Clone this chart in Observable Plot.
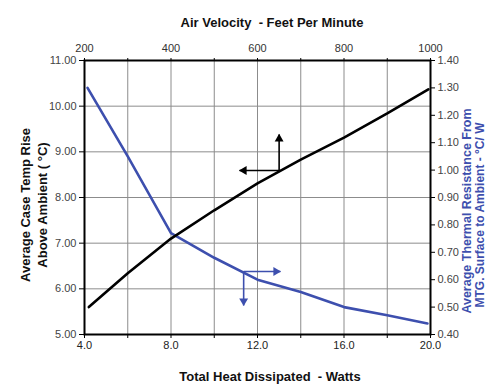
<!DOCTYPE html>
<html>
<head>
<meta charset="utf-8">
<script src="https://cdn.jsdelivr.net/npm/d3@7"></script>
<script src="https://cdn.jsdelivr.net/npm/@observablehq/plot@0.6"></script>
<style>
  html, body { margin: 0; padding: 0; background: #fff; }
  #chart { width: 487px; height: 385px; }
</style>
</head>
<body>
<div id="chart"></div>
<script>
// ---- data ----
// Black curve: case temperature rise vs total heat dissipated (bottom / left axes)
const watts    = [4.2, 6, 8, 10, 12, 14, 16, 18, 19.9];
const tempRise = [5.6, 6.34, 7.1, 7.72, 8.31, 8.83, 9.31, 9.84, 10.37];
// Blue curve: thermal resistance vs air velocity (top / right axes)
const airFpm     = [207, 300, 400, 500, 600, 700, 800, 900, 993];
const resistance = [1.30, 1.05, 0.77, 0.68, 0.60, 0.555, 0.50, 0.47, 0.44];

// Tick values
const wattTicks = [4, 6, 8, 10, 12, 14, 16, 18, 20];
const wattLabels = [4, 8, 12, 16, 20];
const fpmTicks = [200, 300, 400, 500, 600, 700, 800, 900, 1000];
const fpmLabels = [200, 400, 600, 800, 1000];
const tempTicks = [5, 6, 7, 8, 9, 10, 11];
const resTicks = [0.4, 0.5, 0.6, 0.7, 0.8, 0.9, 1.0, 1.1, 1.2, 1.3, 1.4];

// Indicator arrows (base point, tip points) in each curve's own units
const blackArrowBase = [13.0, 8.59];          // watts, °C
const blackArrowLeftTip = [11.17, 8.59];
const blackArrowUpTip = [13.0, 9.38];
const blueArrowBase = [568, 0.63];            // fpm, °C/W
const blueArrowRightTip = [653, 0.63];
const blueArrowDownTip = [568, 0.506];

// ---- secondary-axis mapping onto the primary scales ----
const toW = f => 4 + (f - 200) / 50;          // 200..1000 fpm -> 4..20 W
const toY = r => 5 + (r - 0.4) * 6;           // 0.40..1.40 -> 5..11
const fromW = w => Math.round(200 + (w - 4) * 50);
const fromY = y => (y - 5) / 6 + 0.4;

const BLUE = "#3d4fae";
const GRID = "#8c8c8c";

const blackData = watts.map((w, i) => ({x: w, y: tempRise[i]}));
const blueData = airFpm.map((f, i) => ({x: toW(f), y: toY(resistance[i])}));

const blackShafts = [
  {x1: blackArrowBase[0], y1: blackArrowBase[1], x2: blackArrowLeftTip[0], y2: blackArrowLeftTip[1]},
  {x1: blackArrowBase[0], y1: blackArrowBase[1], x2: blackArrowUpTip[0], y2: blackArrowUpTip[1]}
];
const blueShafts = [
  {x1: toW(blueArrowBase[0]), y1: toY(blueArrowBase[1]), x2: toW(blueArrowRightTip[0]), y2: toY(blueArrowRightTip[1])},
  {x1: toW(blueArrowBase[0]), y1: toY(blueArrowBase[1]), x2: toW(blueArrowDownTip[0]), y2: toY(blueArrowDownTip[1])}
];
const HR = 3.3, HOFF = 4.5;

const plot = Plot.plot({
  width: 487,
  height: 385,
  marginTop: 60,
  marginBottom: 51,
  marginLeft: 84,
  marginRight: 57,
  style: {fontFamily: "'Liberation Sans', Arial, sans-serif", fontSize: "11px", background: "#fff"},
  x: {domain: [4, 20]},
  y: {domain: [5, 11]},
  marks: [
    Plot.gridX(wattTicks.slice(1, -1), {stroke: GRID, strokeOpacity: 1, strokeWidth: 1}),
    Plot.gridY(tempTicks.slice(1, -1), {stroke: GRID, strokeOpacity: 1, strokeWidth: 1}),
    Plot.line(blueData, {x: "x", y: "y", stroke: BLUE, strokeWidth: 2.6}),
    Plot.line(blackData, {x: "x", y: "y", stroke: "black", strokeWidth: 2.6}),
    // black arrows
    Plot.link(blackShafts, {x1: "x1", y1: "y1", x2: "x2", y2: "y2", stroke: "black", strokeWidth: 1.6}),
    Plot.dot([blackArrowLeftTip], {x: d => d[0], y: d => d[1], symbol: "triangle", r: HR, fill: "black", stroke: "none", rotate: -90, dx: HOFF}),
    Plot.dot([blackArrowUpTip], {x: d => d[0], y: d => d[1], symbol: "triangle", r: HR, fill: "black", stroke: "none", rotate: 0, dy: HOFF}),
    // blue arrows
    Plot.link(blueShafts, {x1: "x1", y1: "y1", x2: "x2", y2: "y2", stroke: BLUE, strokeWidth: 1.6}),
    Plot.dot([blueArrowRightTip], {x: d => toW(d[0]), y: d => toY(d[1]), symbol: "triangle", r: HR, fill: BLUE, stroke: "none", rotate: 90, dx: -HOFF}),
    Plot.dot([blueArrowDownTip], {x: d => toW(d[0]), y: d => toY(d[1]), symbol: "triangle", r: HR, fill: BLUE, stroke: "none", rotate: 180, dy: -HOFF}),
    // axes
    Plot.axisY(tempTicks, {anchor: "left", tickSize: 5, tickPadding: 3, stroke: "black", fill: "#444",
      tickFormat: d => d.toFixed(2), label: null}),
    Plot.axisY(resTicks.map(toY), {anchor: "right", tickSize: 4, tickPadding: 3, stroke: "black", fill: "#444",
      tickFormat: d => fromY(d).toFixed(2), label: null}),
    Plot.axisX(wattTicks, {anchor: "bottom", tickSize: 4, tickPadding: 3, stroke: "black", fill: "#222",
      tickFormat: d => wattLabels.includes(d) ? d.toFixed(1) : "", label: null}),
    Plot.axisX(fpmTicks.map(toW), {anchor: "top", tickSize: 3, tickPadding: 6, stroke: "black", fill: "#333",
      tickFormat: d => fpmLabels.includes(fromW(d)) ? String(fromW(d)) : "", label: null}),
    Plot.frame({stroke: "black", strokeWidth: 2})
  ]
});

const svg = d3.select(plot);
const titleFont = "'Liberation Sans', Arial, sans-serif";
function addText(txt, x, y, opts = {}) {
  const t = svg.append("text")
    .attr("x", 0).attr("y", 0)
    .attr("transform", `translate(${x},${y})` + (opts.rotate ? ` rotate(${opts.rotate})` : ""))
    .attr("text-anchor", "middle")
    .attr("font-family", titleFont)
    .attr("font-size", opts.size || 13)
    .attr("font-weight", "bold")
    .attr("fill", opts.fill || "#111")
    .attr("xml:space", "preserve")
    .style("white-space", "pre")
    .text(txt);
  return t;
}
addText("Air Velocity  - Feet Per Minute", 272, 27);
addText("Total Heat Dissipated  - Watts", 270, 381);
addText("Average Case Temp Rise", 30, 205, {rotate: -90});
addText("Above Ambient ( \u00B0C)", 47, 205, {rotate: -90});
addText("Average Thermal Resistance From", 471, 211, {rotate: -90, fill: BLUE, size: 12.5});
addText("MTG. Surface to Ambient - \u00B0C/ W", 483.5, 215, {rotate: -90, fill: BLUE, size: 12});

document.getElementById("chart").appendChild(plot);
</script>
</body>
</html>
